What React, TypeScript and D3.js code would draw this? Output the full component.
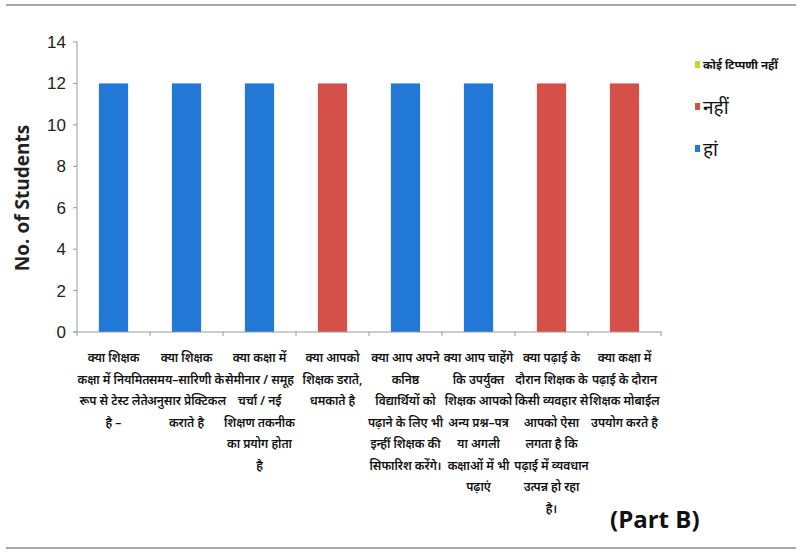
import React from "react";
import * as d3 from "d3";

const categories: string[][] = [
  ["क्या शिक्षक", "कक्षा में नियमित", "रूप से टेस्ट लेते", "है –"],
  ["क्या शिक्षक", "समय–सारिणी के", "अनुसार प्रेक्टिकल", "कराते है"],
  ["क्या कक्षा में", "सेमीनार / समूह", "चर्चा / नई", "शिक्षण तकनीक", "का प्रयोग होता", "है"],
  ["क्या आपको", "शिक्षक डराते,", "धमकाते है"],
  ["क्या आप अपने", "कनिष्ठ", "विद्यार्थियों को", "पढ़ाने के लिए भी", "इन्हीं शिक्षक की", "सिफारिश करेंगे।"],
  ["क्या आप चाहेंगे", "कि उपर्युक्त", "शिक्षक आपको", "अन्य प्रश्न–पत्र", "या अगली", "कक्षाओं में भी", "पढ़ाएं"],
  ["क्या पढ़ाई के", "दौरान शिक्षक के", "किसी व्यवहार से", "आपको ऐसा", "लगता है कि", "पढ़ाई में व्यवधान", "उत्पन्न हो रहा", "है।"],
  ["क्या कक्षा में", "पढ़ाई के दौरान", "शिक्षक मोबाईल", "उपयोग करते है"],
];

const seriesNames = ["हां", "नहीं", "कोई टिप्पणी नहीं"];
const yesValues = [12, 12, 12, 0, 12, 12, 0, 0];
const noValues = [0, 0, 0, 12, 0, 0, 12, 12];
const noCommentValues = [0, 0, 0, 0, 0, 0, 0, 0];
const yTicks = [0, 2, 4, 6, 8, 10, 12, 14];

const colors: Record<string, string> = {
  "हां": "#2178d6",
  "नहीं": "#d6504a",
  "कोई टिप्पणी नहीं": "#c5d52e",
};

const W = 801;
const H = 552;
const left = 77;
const right = 661;
const top = 42;
const bottom = 332;

export default function App() {
  const idx = categories.map((_, i) => String(i));
  const x = d3.scaleBand<string>().domain(idx).range([left, right]).paddingInner(0.6).paddingOuter(0.3);
  const xb = d3.scaleBand<string>().domain(idx).range([left, right]);
  const y = d3.scaleLinear().domain([0, 14]).range([bottom, top]);

  const table = idx.map((k, i) => ({
    key: k,
    "हां": yesValues[i],
    "नहीं": noValues[i],
    "कोई टिप्पणी नहीं": noCommentValues[i],
  }));
  const stack = d3.stack<any>().keys(seriesNames)(table);

  const numFont = "'Liberation Sans Narrow', 'Liberation Sans', Arial, sans-serif";
  const hindiFont = "'Noto Sans', 'Noto Sans Devanagari', 'Lohit Devanagari', sans-serif";
  const lineH = 21.5;

  const legendItems = [
    { name: "कोई टिप्पणी नहीं", y: 65, size: 11.5, weight: 700 },
    { name: "नहीं", y: 107, size: 19, weight: 400 },
    { name: "हां", y: 149, size: 19, weight: 400 },
  ];

  return (
    <svg width={W} height={H} style={{ position: "absolute", left: 0, top: 0, background: "#fff" }}>
      <rect x={0} y={0} width={W} height={H} fill="#fff" />
      <line x1={6} x2={796} y1={5} y2={5} stroke="#8a8a8a" strokeWidth={1.5} />
      <line x1={6} x2={796} y1={548} y2={548} stroke="#8a8a8a" strokeWidth={1.5} />

      {/* bars */}
      {stack.map((s) =>
        s.map((d, i) =>
          d[1] - d[0] > 0 ? (
            <rect
              key={s.key + i}
              x={x(idx[i])}
              y={y(d[1])}
              width={x.bandwidth()}
              height={y(d[0]) - y(d[1])}
              fill={colors[s.key]}
            />
          ) : null
        )
      )}

      {/* y axis */}
      <line x1={left} x2={left} y1={top - 1} y2={bottom} stroke="#9a9a9a" strokeWidth={1} />
      {yTicks.map((t) => (
        <g key={t}>
          <line x1={left - 4} x2={left} y1={y(t)} y2={y(t)} stroke="#9a9a9a" />
          <text x={66} y={y(t)} dy="0.35em" textAnchor="end" fontFamily={numFont} fontSize={17} fill="#222">
            {t}
          </text>
        </g>
      ))}
      <text
        transform={`translate(29,198) rotate(-90)`}
        textAnchor="middle"
        fontFamily="'Open Sans', 'Noto Sans', sans-serif"
        fontWeight={700}
        fontSize={19}
        fill="#222"
      >
        No. of Students
      </text>

      {/* x axis */}
      <line x1={left - 4} x2={right + 1} y1={bottom} y2={bottom} stroke="#9a9a9a" strokeWidth={1} />
      {idx.concat(["end"]).map((k, i) => {
        const px = i < idx.length ? (xb(k) as number) : right;
        return <line key={"t" + i} x1={px} x2={px} y1={bottom} y2={bottom + 4} stroke="#9a9a9a" />;
      })}
      {categories.map((lines, i) => {
        const cx = (xb(idx[i]) as number) + xb.bandwidth() / 2;
        return (
          <text key={"c" + i} textAnchor="middle" fontFamily={hindiFont} fontSize={12} fontWeight={600} fill="#111">
            {lines.map((ln, j) => (
              <tspan key={j} x={cx} y={362 + j * lineH}>
                {ln}
              </tspan>
            ))}
          </text>
        );
      })}

      {/* legend */}
      {legendItems.map((it) => (
        <g key={it.name}>
          <rect x={695} y={it.y - 4} width={5} height={7} fill={colors[it.name]} />
          <text
            x={703}
            y={it.y}
            dy="0.35em"
            fontFamily={hindiFont}
            fontSize={it.size}
            fontWeight={it.weight}
            fill="#111"
          >
            {it.name}
          </text>
        </g>
      ))}

      <text x={610} y={528} fontFamily="'Open Sans', 'Noto Sans', sans-serif" fontWeight={700} fontSize={24} fill="#111">
        (Part B)
      </text>
    </svg>
  );
}
